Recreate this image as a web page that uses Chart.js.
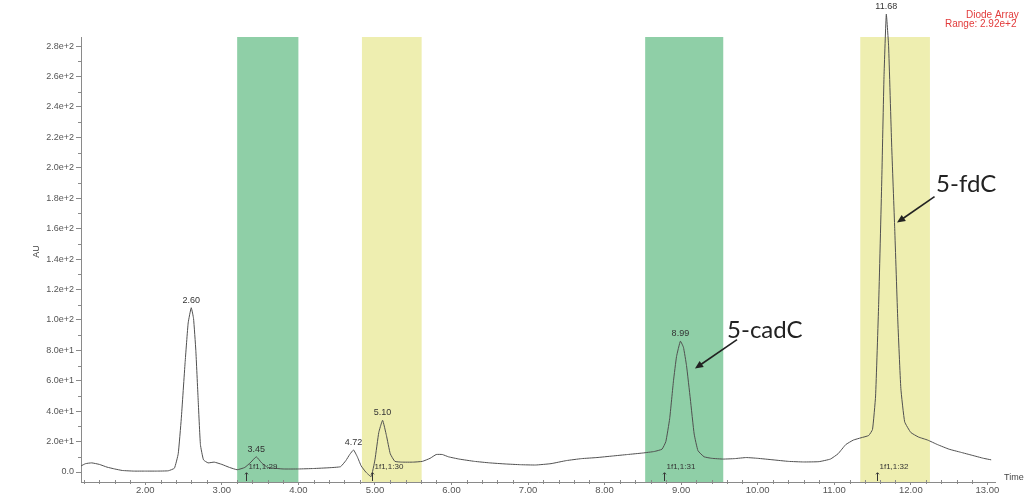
<!DOCTYPE html>
<html>
<head>
<meta charset="utf-8">
<script src="https://cdn.jsdelivr.net/npm/chart.js@4/dist/chart.umd.min.js"></script>
<style>
  html, body { margin: 0; padding: 0; background: #ffffff; }
  #wrap { width: 1027px; height: 495px; }
</style>
</head>
<body>
<div id="wrap"><canvas id="chrom" width="1027" height="495"></canvas></div>
<script>
// Retention time (min) and detector response (AU) of the diode-array trace
const times = [
  1.16, 1.22, 1.30, 1.40, 1.50, 1.60, 1.70, 1.85, 2.00, 2.15, 2.30, 2.38,
  2.43, 2.47, 2.52, 2.56, 2.60, 2.63, 2.66, 2.69, 2.72, 2.76, 2.82, 2.90,
  3.00, 3.10, 3.20, 3.30, 3.38, 3.45, 3.52, 3.60, 3.80, 4.00, 4.20, 4.40,
  4.55, 4.62, 4.67, 4.72, 4.77, 4.82, 4.88, 4.95, 5.00, 5.05, 5.10, 5.15,
  5.20, 5.26, 5.35, 5.50, 5.62, 5.72, 5.80, 5.88, 5.96, 6.10, 6.30, 6.50,
  6.70, 6.90, 7.10, 7.30, 7.50, 7.70, 7.90, 8.10, 8.30, 8.50, 8.65, 8.75,
  8.80, 8.85, 8.90, 8.94, 8.99, 9.03, 9.07, 9.12, 9.17, 9.22, 9.30, 9.40,
  9.55, 9.70, 9.85, 10.00, 10.20, 10.40, 10.60, 10.80, 10.95, 11.05, 11.15,
  11.25, 11.35, 11.45, 11.50, 11.54, 11.58, 11.62, 11.65, 11.68, 11.71, 11.75,
  11.79, 11.83, 11.87, 11.92, 12.00, 12.10, 12.22, 12.35, 12.50, 12.65, 12.80,
  12.95, 13.05
];
const absorbance = [
  4.0, 5.5, 6.0, 5.0, 3.2, 2.0, 1.0, 0.6, 0.6, 0.6, 0.8, 2.5,
  12, 35, 72, 98, 108, 101, 80, 48, 18, 8, 6.0, 6.5,
  5.0, 3.0, 1.5, 3.0, 6.5, 10, 6.0, 3.0, 2.0, 2.0, 2.3, 2.8,
  3.5, 7.5, 11.5, 14.5, 10, 4.0, 0.0, -3.0, 8.0, 26, 34, 24,
  12, 7.0, 6.5, 6.5, 7.0, 9.0, 11.5, 11.5, 10, 8.5, 7.0, 6.0,
  5.3, 4.8, 4.6, 5.5, 7.5, 8.8, 9.5, 10.5, 11.5, 12.5, 13.5, 15,
  20, 35, 60, 76, 86, 82, 70, 48, 25, 14, 10, 9.0,
  8.5, 8.8, 9.5, 9.0, 8.0, 7.0, 6.6, 6.8, 8.5, 12, 18,
  21, 22.5, 24, 28, 50, 110, 190, 260, 301, 280, 215,
  160, 100, 55, 33, 26, 23, 21, 18, 15, 13, 11,
  9.0, 8.0
];

// Shaded retention windows
const bandStart = [3.20, 4.83, 8.53, 11.34];
const bandEnd   = [4.00, 5.61, 9.55, 12.25];
const bandColor = ['#8fcfa7', '#eeeeb0', '#8fcfa7', '#eeeeb0'];

// Apex labels
const peakTimes = [2.60, 3.45, 4.72, 5.10, 8.99, 11.68];

// Integration markers along the baseline
const markTimes  = [3.31, 4.96, 8.77, 11.56];
const markLabels = ['1f1,1:29', '1f1,1:30', '1f1,1:31', '1f1,1:32'];

// Axis ticks
const xTicks = [2, 3, 4, 5, 6, 7, 8, 9, 10, 11, 12, 13];
const yTicks = [0, 20, 40, 60, 80, 100, 120, 140, 160, 180, 200, 220, 240, 260, 280];
const yTickLabels = ['0.0', '2.0e+1', '4.0e+1', '6.0e+1', '8.0e+1', '1.0e+2', '1.2e+2',
  '1.4e+2', '1.6e+2', '1.8e+2', '2.0e+2', '2.2e+2', '2.4e+2', '2.6e+2', '2.8e+2'];

// Compound callouts: label anchor, arrow tail and arrow tip in data units
const calloutText = ['5-cadC', '5-fdC'];
const calloutLabel = [[9.60, 93], [12.33, 189]];
const calloutTail  = [[9.73, 87], [12.31, 181]];
const calloutTip   = [[9.18, 68], [11.82, 164]];

const smallFont = '"Liberation Sans", Arial, sans-serif';

const decorations = {
  id: 'decorations',
  beforeDatasetsDraw(chart) {
    const { ctx, chartArea: a, scales: { x } } = chart;
    ctx.save();
    for (let i = 0; i < bandStart.length; i++) {
      const x0 = x.getPixelForValue(bandStart[i]);
      const x1 = x.getPixelForValue(bandEnd[i]);
      ctx.fillStyle = bandColor[i];
      ctx.fillRect(x0, a.top, x1 - x0, a.bottom - a.top);
    }
    ctx.restore();
  },
  afterDatasetsDraw(chart) {
    const { ctx, chartArea: a, scales: { x, y } } = chart;
    ctx.save();
    // minor ticks
    ctx.strokeStyle = '#8a8a8a';
    ctx.lineWidth = 1;
    ctx.beginPath();
    for (let v = 10; v < 290; v += 20) {
      const py = Math.round(y.getPixelForValue(v)) + 0.5;
      ctx.moveTo(a.left - 3, py); ctx.lineTo(a.left, py);
    }
    for (let k = 12; k <= 130; k += 2) {
      if (k % 10 === 0) continue;
      const px = Math.round(x.getPixelForValue(k / 10)) + 0.5;
      ctx.moveTo(px, a.bottom - 2); ctx.lineTo(px, a.bottom + 2);
    }
    ctx.stroke();

    // apex labels
    ctx.fillStyle = '#333';
    ctx.font = '9px ' + smallFont;
    ctx.textAlign = 'center';
    ctx.textBaseline = 'bottom';
    peakTimes.forEach(t => {
      let idx = 0, best = Infinity;
      times.forEach((tt, i) => { const d = Math.abs(tt - t); if (d < best) { best = d; idx = i; } });
      ctx.fillText(t.toFixed(2), x.getPixelForValue(t), y.getPixelForValue(absorbance[idx]) - 3);
    });

    // integration markers
    ctx.font = '8px ' + smallFont;
    ctx.textAlign = 'left';
    ctx.textBaseline = 'middle';
    ctx.strokeStyle = '#333';
    markTimes.forEach((t, i) => {
      const px = Math.round(x.getPixelForValue(t)) + 0.5;
      ctx.fillText(markLabels[i], px + 2, y.getPixelForValue(3.5));
      ctx.beginPath();
      ctx.moveTo(px, y.getPixelForValue(-0.5));
      ctx.lineTo(px, a.bottom - 1);
      ctx.stroke();
      ctx.beginPath();
      ctx.moveTo(px - 1.5, y.getPixelForValue(-1.5));
      ctx.lineTo(px, y.getPixelForValue(-0.5));
      ctx.lineTo(px + 1.5, y.getPixelForValue(-1.5));
      ctx.stroke();
    });

    // axis captions
    ctx.font = '9px ' + smallFont;
    ctx.fillStyle = '#444';
    ctx.textAlign = 'left';
    ctx.textBaseline = 'middle';
    ctx.fillText('Time', a.right + 9, a.bottom - 4);
    ctx.save();
    ctx.translate(37, y.getPixelForValue(145));
    ctx.rotate(-Math.PI / 2);
    ctx.textAlign = 'center';
    ctx.fillText('AU', 0, 0);
    ctx.restore();

    // detector caption
    ctx.font = '10px ' + smallFont;
    ctx.fillStyle = '#e23b3b';
    ctx.textAlign = 'left';
    ctx.fillText('Diode Array', 966, 15);
    ctx.fillText('Range: 2.92e+2', 945, 24);

    // compound callouts
    ctx.fillStyle = '#222';
    ctx.strokeStyle = '#222';
    ctx.lineWidth = 1.6;
    ctx.font = '24px Lato, "Open Sans", sans-serif';
    ctx.textAlign = 'left';
    ctx.textBaseline = 'middle';
    calloutText.forEach((txt, i) => {
      ctx.fillText(txt, x.getPixelForValue(calloutLabel[i][0]), y.getPixelForValue(calloutLabel[i][1]));
      const x0 = x.getPixelForValue(calloutTail[i][0]), y0 = y.getPixelForValue(calloutTail[i][1]);
      const x1 = x.getPixelForValue(calloutTip[i][0]),  y1 = y.getPixelForValue(calloutTip[i][1]);
      const ang = Math.atan2(y1 - y0, x1 - x0);
      const head = 9;
      ctx.beginPath();
      ctx.moveTo(x0, y0);
      ctx.lineTo(x1 - Math.cos(ang) * head * 0.8, y1 - Math.sin(ang) * head * 0.8);
      ctx.stroke();
      ctx.beginPath();
      ctx.moveTo(x1, y1);
      ctx.lineTo(x1 - head * Math.cos(ang - 0.42), y1 - head * Math.sin(ang - 0.42));
      ctx.lineTo(x1 - head * Math.cos(ang + 0.42), y1 - head * Math.sin(ang + 0.42));
      ctx.closePath();
      ctx.fill();
    });
    ctx.restore();
  }
};

new Chart(document.getElementById('chrom'), {
  type: 'line',
  data: {
    datasets: [{
      data: times.map((t, i) => ({ x: t, y: absorbance[i] })),
      borderColor: '#505050',
      borderWidth: 1,
      pointRadius: 0,
      tension: 0.12,
      fill: false,
      clip: false
    }]
  },
  options: {
    responsive: false,
    animation: false,
    devicePixelRatio: 1,
    layout: { padding: { top: 37, right: 32, left: 0, bottom: 0 } },
    plugins: { legend: { display: false }, tooltip: { enabled: false } },
    scales: {
      x: {
        type: 'linear',
        min: 1.16,
        max: 13.1,
        afterBuildTicks: s => { s.ticks = xTicks.map(v => ({ value: v })); },
        afterFit: s => { s.height = 13; },
        ticks: {
          callback: v => Number(v).toFixed(2),
          font: { size: 9.5, family: smallFont },
          color: '#555',
          padding: 0,
          maxRotation: 0,
          autoSkip: false
        },
        grid: { drawOnChartArea: false, drawTicks: true, tickLength: 3, color: '#8a8a8a' },
        border: { color: '#8a8a8a' }
      },
      y: {
        min: -6.57,
        max: 286,
        afterBuildTicks: s => { s.ticks = yTicks.map(v => ({ value: v })); },
        afterFit: s => { s.width = 81; },
        ticks: {
          callback: (v, i) => yTickLabels[i],
          font: { size: 9, family: smallFont },
          color: '#555',
          padding: 2,
          autoSkip: false
        },
        grid: { drawOnChartArea: false, drawTicks: true, tickLength: 5, color: '#8a8a8a' },
        border: { color: '#8a8a8a' }
      }
    }
  },
  plugins: [decorations]
});
</script>
</body>
</html>
